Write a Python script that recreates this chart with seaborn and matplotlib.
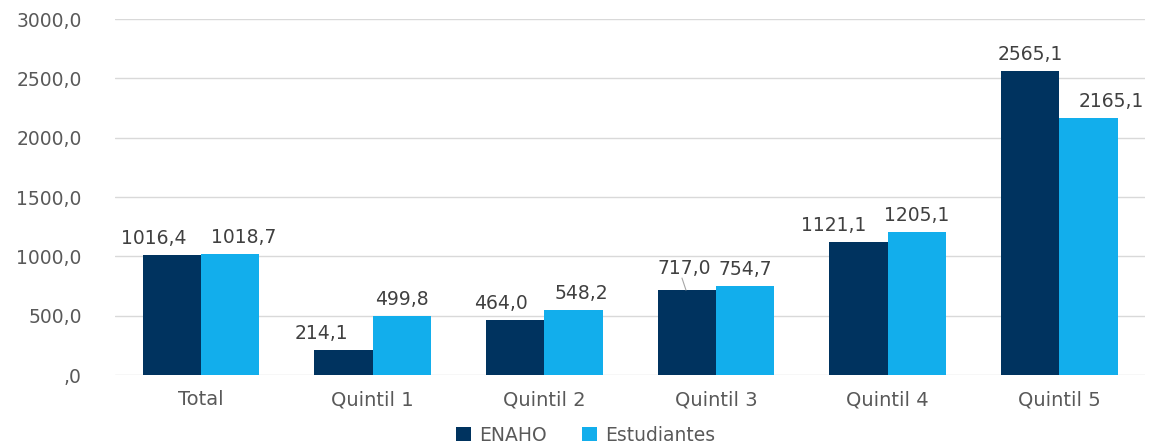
import matplotlib
matplotlib.use("Agg")
import matplotlib.pyplot as plt
import seaborn as sns
import pandas as pd
from matplotlib.ticker import FuncFormatter

# data
categories = ["Total", "Quintil 1", "Quintil 2", "Quintil 3", "Quintil 4", "Quintil 5"]
enaho = [1016.4, 214.1, 464.0, 717.0, 1121.1, 2565.1]
estudiantes = [1018.7, 499.8, 548.2, 754.7, 1205.1, 2165.1]
series_names = ["ENAHO", "Estudiantes"]
y_ticks = [0, 500, 1000, 1500, 2000, 2500, 3000]

df = pd.DataFrame({
    "categoria": categories * 2,
    "serie": [series_names[0]] * len(categories) + [series_names[1]] * len(categories),
    "valor": enaho + estudiantes,
})

sns.set_style("white")
plt.rcParams["font.family"] = ["DejaVu Sans"]
text_color = "#595959"

fig = plt.figure(figsize=(11.55, 4.45), dpi=100)
ax = fig.add_axes([0.0996, 0.157, 0.892, 0.80])

palette = {"ENAHO": "#00335F", "Estudiantes": "#12AEEC"}
sns.barplot(data=df, x="categoria", y="valor", hue="serie", order=categories,
            hue_order=series_names, palette=palette, width=0.68, saturation=1,
            linewidth=0, ax=ax, legend=True)

def fmt_es(v, pos=None):
    s = f"{v:.1f}".replace(".", ",")
    if s.startswith("0,"):
        s = s[1:]
    return s

ax.set_ylim(0, 3000)
ax.set_xlim(-0.5, 5.5)
ax.set_yticks(y_ticks)
ax.yaxis.set_major_formatter(FuncFormatter(fmt_es))
ax.grid(axis="y", color="#D9D9D9", linewidth=1)
ax.set_axisbelow(True)
for s in ax.spines.values():
    s.set_visible(False)
ax.set_xlabel("")
ax.set_ylabel("")
ax.tick_params(axis="x", length=0, labelsize=14, colors=text_color, pad=11)
ax.tick_params(axis="y", length=0, labelsize=13.5, colors=text_color, pad=24)

# label nudges in pixels (series, category) -> (dx, dy), as Excel moved them apart
nudges = {(0, 0): (-18, 0), (1, 0): (14, 0),
          (0, 1): (-22, 0), (0, 2): (-14, 0), (1, 2): (8, 0),
          (0, 3): (-3, 5), (0, 4): (-25, 0), (1, 5): (23, 0)}
for si, cont in enumerate(ax.containers):
    for ci, bar in enumerate(cont):
        v = cont.datavalues[ci]
        dx, dy = nudges.get((si, ci), (0, 0))
        ax.annotate(fmt_es(v), (bar.get_x() + bar.get_width() / 2, v),
                    xytext=(dx, 7 + dy), textcoords="offset pixels",
                    ha="center", va="bottom", fontsize=13.5, color="#404040")

# short leader line of the 717,0 label
b = ax.containers[0][3]
ax.annotate("", (b.get_x() + b.get_width() / 2 - 0.005, enaho[3]),
            xytext=(-4, 12), textcoords="offset pixels",
            arrowprops=dict(arrowstyle="-", color="#A6A6A6", lw=0.8,
                            shrinkA=0, shrinkB=0))

ax.get_legend().remove()
handles, labels = ax.get_legend_handles_labels()
leg = fig.legend(handles, labels, loc="center", bbox_to_anchor=(0.507, 0.022), ncol=2,
                 frameon=False, fontsize=13.5, handlelength=0.8, handleheight=0.8,
                 columnspacing=1.9, handletextpad=0.4)
for t in leg.get_texts():
    t.set_color(text_color)

fig.savefig("out.png", dpi=100)
